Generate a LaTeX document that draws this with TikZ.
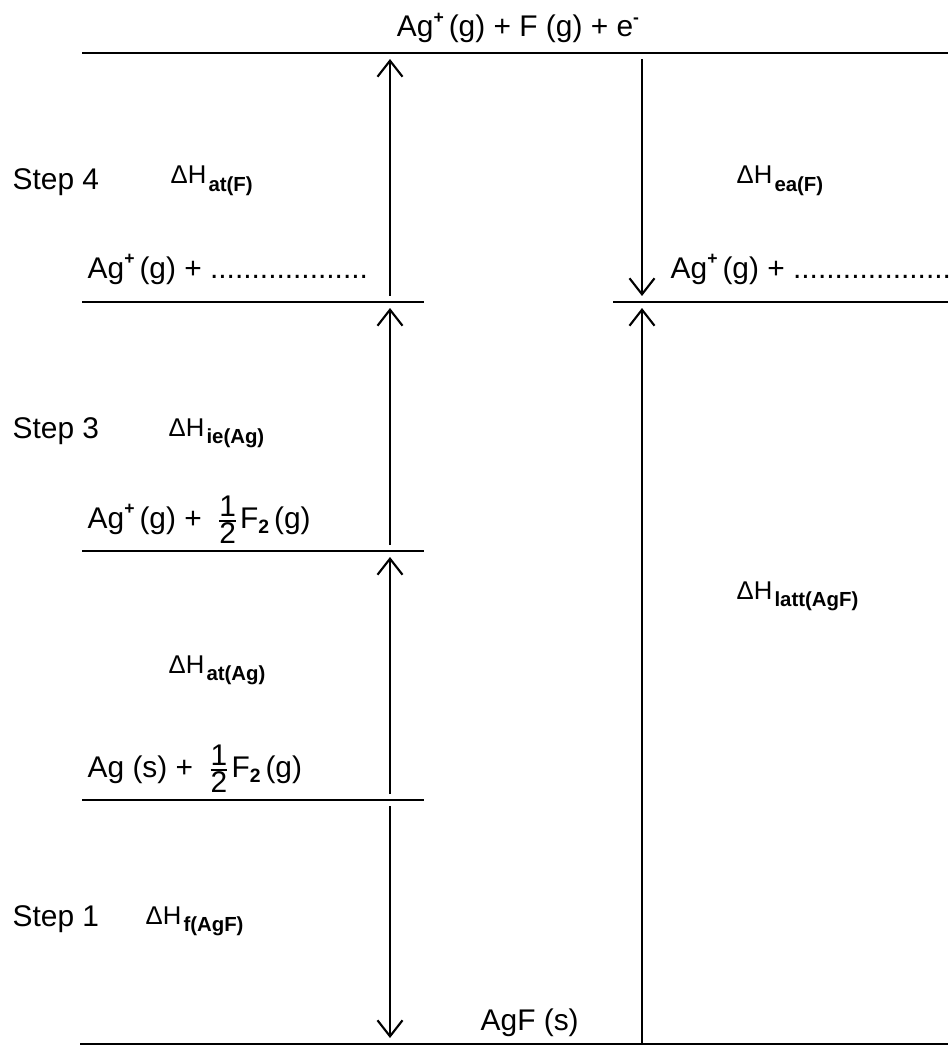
\documentclass[tikz,border=0pt]{standalone}
\usepackage{fontspec}
\setmainfont{Liberation Sans}
\usetikzlibrary{arrows.meta}
\newcommand{\dH}[1]{{\fontsize{7.3}{8}\selectfont ΔH\kern0.6pt\raisebox{-0.55ex}{\fontsize{5.8}{6}\selectfont\bfseries #1}}}
\newcommand{\chg}[1]{\raisebox{0.85ex}{\fontsize{5}{5}\selectfont\bfseries #1}}
\newcommand{\lowtwo}{\raisebox{-0.35ex}{\fontsize{5.5}{5}\selectfont\bfseries 2}}
\newcommand{\half}{$\frac{\mbox{1}}{\mbox{2}}$}
\newcommand{\dotrow}{...................}
\begin{document}
\begin{tikzpicture}[x=0.01cm, y=-0.01cm,
    level/.style={line width=0.75pt},
    arrow/.style={-{Straight Barb[length=1.6mm,width=2.5mm]}, line width=0.6pt, shorten >=0.6mm, shorten <=0.6mm},
    txt/.style={anchor=base west, inner sep=0pt, font=\fontsize{8.5}{10}\selectfont},
]
\useasboundingbox (0,0) rectangle (948,1046);

\draw[level] (82,53) -- (948,53);
\draw[level] (82,302) -- (424,302);
\draw[level] (613,302) -- (948,302);
\draw[level] (82,551) -- (424,551);
\draw[level] (82,800) -- (424,800);
\draw[level] (80,1044) -- (948,1044);

\coordinate (L0) at (390,53);
\coordinate (L1) at (390,302);
\coordinate (L2) at (390,551);
\coordinate (L3) at (390,800);
\coordinate (L4) at (390,1044);
\coordinate (R0) at (642,53);
\coordinate (R1) at (642,302);
\coordinate (R4) at (642,1044);

\draw[arrow] (L1) -- (L0);
\draw[arrow] (L2) -- (L1);
\draw[arrow] (L3) -- (L2);
\draw[arrow] (L3) -- (L4);
\draw[arrow] (R0) -- (R1);
\draw[arrow, shorten <=0pt] (R4) -- (R1);

\node[txt, anchor=base] (top) at (518,37) {Ag\chg{+}\,(g) + F (g) + e\chg{-}};
\node[txt] (s4) at (12,190) {Step 4};
\node[txt] (s3) at (12,438) {Step 3};
\node[txt] (s1) at (12,926) {Step 1};
\node[txt] (hatf) at (170,184) {\dH{at(F)}};
\node[txt] (heaf) at (736,184) {\dH{ea(F)}};
\node[txt] (hie) at (168,436) {\dH{ie(Ag)}};
\node[txt] (hatag) at (168,673) {\dH{at(Ag)}};
\node[txt] (hf) at (145,924) {\dH{f(AgF)}};
\node[txt] (hlatt) at (736,599) {\dH{latt(AgF)}};
\node[txt] (agl) at (87,278) {Ag\chg{+}\,(g) + \dotrow};
\node[txt] (agr) at (670,278) {Ag\chg{+}\,(g) + \dotrow};
\node[txt] (agf) at (87,528) {Ag\chg{+}\,(g) + \,\half F\lowtwo\,(g)};
\node[txt] (ags) at (87,777) {Ag (s) + \,\half F\lowtwo\,(g)};
\node[txt] (agfs) at (480,1030) {AgF (s)};
\end{tikzpicture}
\end{document}
